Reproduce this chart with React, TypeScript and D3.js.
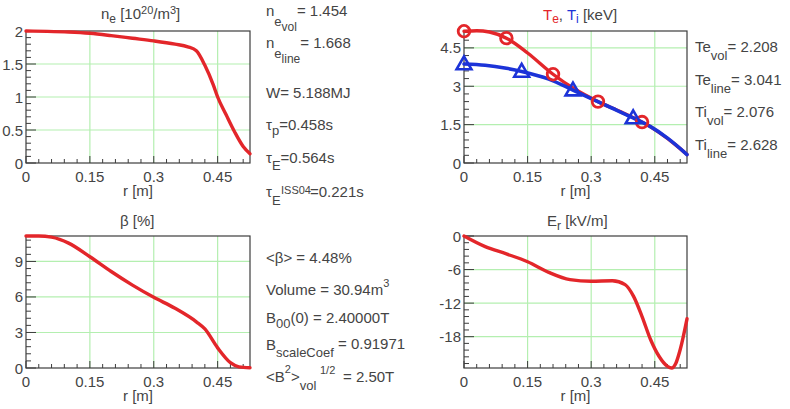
import React from "react";
import * as d3 from "d3";

// ---------------- data ----------------
const rNe = [0, 0.05, 0.1, 0.15, 0.2, 0.25, 0.3, 0.35, 0.38, 0.4, 0.42, 0.44, 0.45, 0.47, 0.49, 0.51, 0.526];
const neValues = [2.0, 1.995, 1.985, 1.965, 1.93, 1.89, 1.85, 1.8, 1.76, 1.7, 1.48, 1.18, 1.0, 0.73, 0.47, 0.25, 0.14];

const rTe = [0, 0.03, 0.06, 0.1, 0.15, 0.21, 0.26, 0.316, 0.37, 0.42, 0.46, 0.5, 0.526];
const teValues = [5.15, 5.17, 5.12, 4.88, 4.3, 3.47, 2.9, 2.4, 2.0, 1.6, 1.2, 0.7, 0.33];
const rTi = [0, 0.05, 0.1, 0.136, 0.2, 0.257, 0.3, 0.35, 0.399, 0.44, 0.48, 0.526];
const tiValues = [3.87, 3.82, 3.7, 3.58, 3.28, 2.85, 2.52, 2.14, 1.76, 1.42, 0.97, 0.33];
const teMarkerR = [0, 0.1, 0.21, 0.316, 0.42];
const teMarkerV = [5.15, 4.88, 3.47, 2.4, 1.6];
const tiMarkerR = [0, 0.136, 0.257, 0.399];
const tiMarkerV = [3.87, 3.58, 2.85, 1.76];

const rBeta = [0, 0.03, 0.06, 0.1, 0.15, 0.2, 0.25, 0.3, 0.35, 0.4, 0.42, 0.45, 0.48, 0.5, 0.526];
const betaValues = [11.15, 11.15, 11.05, 10.55, 9.4, 8.15, 7.0, 5.97, 5.04, 3.9, 3.3, 1.7, 0.45, 0.1, 0.02];

const rEr = [0, 0.05, 0.1, 0.15, 0.2, 0.25, 0.3, 0.35, 0.38, 0.4, 0.42, 0.44, 0.46, 0.48, 0.49, 0.5, 0.51, 0.526];
const erValues = [0, -1.9, -3.2, -4.6, -6.5, -7.8, -8.1, -8.0, -8.7, -10.8, -14.4, -18.5, -21.5, -23.3, -23.6, -22.7, -20.3, -14.8];

const xTickValues = [0, 0.15, 0.3, 0.45];
const xTickLabels = ["0", "0.15", "0.3", "0.45"];
const neTickValues = [0, 0.5, 1, 1.5, 2];
const neTickLabels = ["0", "0.5", "1", "1.5", "2"];
const tTickValues = [0, 1.5, 3, 4.5];
const tTickLabels = ["0", "1.5", "3", "4.5"];
const betaTickValues = [0, 3, 6, 9];
const betaTickLabels = ["0", "3", "6", "9"];
const erTickValues = [0, -6, -12, -18];
const erTickLabels = ["0", "-6", "-12", "-18"];

// ---------------- styles ----------------
const FONT = "'Liberation Sans', Arial, Helvetica, sans-serif";
const TXT = "#444";
const RED = "#e3262a";
const BLUE = "#1c33d8";
const GRID = "#b4efb0";
const FRAME = "#3c3c3c";
const X_MAX = 0.526;

type Box = { left: number; right: number; top: number; bottom: number };
type Series = { r: number[]; v: number[]; color: string; width: number };

function minorRange(min: number, max: number, step: number) {
  const a = Math.ceil(min / step - 1e-9);
  const b = Math.floor(max / step + 1e-9);
  return d3.range(a, b + 1).map((i) => i * step);
}

function Panel(props: {
  box: Box;
  yDomain: [number, number];
  yTicks: number[];
  yLabels: string[];
  yMinor: number;
  series: Series[];
}) {
  const { box, yDomain, yTicks, yLabels, yMinor, series } = props;
  const x = d3.scaleLinear().domain([0, X_MAX]).range([box.left, box.right]);
  const y = d3.scaleLinear().domain(yDomain).range([box.bottom, box.top]);
  const xMinor = minorRange(0, X_MAX, 0.03);
  const yMin = minorRange(yDomain[0], yDomain[1], yMinor);
  const isMajor = (v: number, arr: number[]) => arr.some((t) => Math.abs(t - v) < 1e-6);
  return (
    <g>
      {xTickValues.filter((t) => t > 0).map((t) => (
        <line key={"gx" + t} x1={x(t)} x2={x(t)} y1={box.top} y2={box.bottom} stroke={GRID} strokeWidth={1.2} />
      ))}
      {yTicks.filter((t) => y(t) > box.top + 2 && y(t) < box.bottom - 2).map((t) => (
        <line key={"gy" + t} x1={box.left} x2={box.right} y1={y(t)} y2={y(t)} stroke={GRID} strokeWidth={1.2} />
      ))}
      {xMinor.map((t) => (
        <line key={"tx" + t} x1={x(t)} x2={x(t)} y1={box.bottom} y2={box.bottom - (isMajor(t, xTickValues) ? 7 : 4)} stroke={FRAME} strokeWidth={1} />
      ))}
      {yMin.map((t) => (
        <line key={"ty" + t} x1={box.left} x2={box.left + (isMajor(t, yTicks) ? 10 : 5)} y1={y(t)} y2={y(t)} stroke={FRAME} strokeWidth={1} />
      ))}
      <rect x={box.left} y={box.top} width={box.right - box.left} height={box.bottom - box.top} fill="none" stroke={FRAME} strokeWidth={1.2} />
      {xTickValues.map((t, i) => (
        <text key={"lx" + t} x={x(t)} y={box.bottom + 18.5} textAnchor="middle" fontSize={15} fill={TXT} fontFamily={FONT}>
          {xTickLabels[i]}
        </text>
      ))}
      {yTicks.map((t, i) => (
        <text key={"ly" + t} x={box.left - 3} y={y(t) + 5.5} textAnchor="end" fontSize={15} fill={TXT} fontFamily={FONT}>
          {yLabels[i]}
        </text>
      ))}
      <text x={(box.left + box.right) / 2} y={box.bottom + 33} textAnchor="middle" fontSize={15} fill={TXT} fontFamily={FONT}>
        r [m]
      </text>
      {series.map((s, k) => {
        const pts = s.r.map((r, i) => [r, s.v[i]] as [number, number]);
        const line = d3
          .line<[number, number]>()
          .x((d) => x(d[0]))
          .y((d) => y(d[1]))
          .curve(d3.curveMonotoneX);
        return <path key={"s" + k} d={line(pts) || ""} fill="none" stroke={s.color} strokeWidth={s.width} strokeLinejoin="round" strokeLinecap="round" />;
      })}
    </g>
  );
}

function TeMarkers({ box }: { box: Box }) {
  const x = d3.scaleLinear().domain([0, X_MAX]).range([box.left, box.right]);
  const y = d3.scaleLinear().domain([0, 5.16]).range([box.bottom, box.top]);
  const tri = d3.symbol().type(d3.symbolTriangle).size(95);
  return (
    <g>
      {teMarkerR.map((r, i) => (
        <circle key={"c" + i} cx={x(r)} cy={y(teMarkerV[i])} r={5.8} fill="none" stroke={RED} strokeWidth={2.8} />
      ))}
      {tiMarkerR.map((r, i) => (
        <path key={"t" + i} d={tri() || ""} transform={`translate(${x(r)},${y(tiMarkerV[i]) + 1})`} fill="none" stroke={BLUE} strokeWidth={2.6} strokeLinejoin="miter" />
      ))}
    </g>
  );
}

const P1: Box = { left: 26, right: 250, top: 31, bottom: 163 };
const P2: Box = { left: 464, right: 687, top: 31, bottom: 163 };
const P3: Box = { left: 26, right: 250, top: 236, bottom: 368 };
const P4: Box = { left: 464, right: 687, top: 236, bottom: 368 };

const T = (p: any) => <text fontFamily={FONT} fill={TXT} fontSize={15} {...p} />;

export default function App() {
  return (
    <div style={{ position: "absolute", left: 0, top: 0, width: 790, height: 409, background: "#fff" }}>
      <svg width={790} height={409} style={{ display: "block" }}>
        <rect x={0} y={0} width={790} height={409} fill="#fff" />
        <Panel box={P1} yDomain={[0, 2]} yTicks={neTickValues} yLabels={neTickLabels} yMinor={0.1}
          series={[{ r: rNe, v: neValues, color: RED, width: 3.4 }]} />
        <Panel box={P2} yDomain={[0, 5.16]} yTicks={tTickValues} yLabels={tTickLabels} yMinor={0.3}
          series={[
            { r: rTe, v: teValues, color: RED, width: 3.4 },
            { r: rTi, v: tiValues, color: BLUE, width: 3.6 },
          ]} />
        <TeMarkers box={P2} />
        <Panel box={P3} yDomain={[0, 11.15]} yTicks={betaTickValues} yLabels={betaTickLabels} yMinor={0.6}
          series={[{ r: rBeta, v: betaValues, color: RED, width: 3.4 }]} />
        <Panel box={P4} yDomain={[-23.6, 0]} yTicks={erTickValues} yLabels={erTickLabels} yMinor={1.2}
          series={[{ r: rEr, v: erValues, color: RED, width: 3.4 }]} />

        {/* titles */}
        <T x={101} y={19}>n<tspan dy={4} fontSize={12}>e</tspan><tspan dy={-4}> [10</tspan><tspan dy={-5} fontSize={11}>20</tspan><tspan dy={5}>/m</tspan><tspan dy={-5} fontSize={11}>3</tspan><tspan dy={5}>]</tspan></T>
        <T x={543} y={20}><tspan fill={RED}>T</tspan><tspan fill={RED} dy={3} fontSize={12}>e</tspan><tspan dy={-3}>, </tspan><tspan fill={BLUE}>T</tspan><tspan fill={BLUE} dy={3} fontSize={12}>i</tspan><tspan dy={-3}> [keV]</tspan></T>
        <T x={120} y={226}>β [%]</T>
        <T x={547} y={226}>E<tspan dy={4} fontSize={12}>r</tspan><tspan dy={-4}> [kV/m]</tspan></T>

        {/* top middle info */}
        <T x={266} y={16}>n<tspan dy={10} fontSize={13}>e</tspan><tspan dy={5} fontSize={12}>vol</tspan><tspan dy={-15}>= 1.454</tspan></T>
        <T x={266} y={48}>n<tspan dy={10} fontSize={13}>e</tspan><tspan dy={5} fontSize={12}>line</tspan><tspan dy={-15}>= 1.668</tspan></T>
        <T x={266} y={98}>W= 5.188MJ</T>
        <T x={266} y={130}>τ<tspan dy={5} fontSize={13}>p</tspan><tspan dy={-5}>=0.458s</tspan></T>
        <T x={266} y={163}>τ<tspan dy={7} fontSize={13}>E</tspan><tspan dy={-7}>=0.564s</tspan></T>
        <T x={266} y={197}>τ<tspan dy={8} fontSize={13}>E</tspan><tspan x={281} dy={-11} fontSize={11}>ISS04</tspan><tspan x={310} dy={3}>=0.221s</tspan></T>

        {/* bottom middle info */}
        <T x={266} y={263}>&lt;β&gt; = 4.48%</T>
        <T x={266} y={295}>Volume = 30.94m<tspan dy={-8} fontSize={11}>3</tspan></T>
        <T x={266} y={323}>B<tspan dy={5} fontSize={13}>00</tspan><tspan dy={-5}>(0) = 2.40000T</tspan></T>
        <T x={266} y={350}>B<tspan dy={7} fontSize={13}>scaleCoef</tspan><tspan dy={-8}> = 0.91971</tspan></T>
        <T x={266} y={382}>&lt;B<tspan dy={-9} fontSize={11}>2</tspan><tspan dy={9}>&gt;</tspan><tspan dy={8} fontSize={13}>vol</tspan><tspan x={320} dy={-16} fontSize={11}>1/2</tspan><tspan x={343} dy={8}>= 2.50T</tspan></T>

        {/* right info */}
        <T x={695} y={52}>Te<tspan dy={8} fontSize={13}>vol</tspan><tspan dy={-8}>= 2.208</tspan></T>
        <T x={695} y={85}>Te<tspan dy={8} fontSize={13}>line</tspan><tspan dy={-8}>= 3.041</tspan></T>
        <T x={695} y={117}>Ti<tspan dy={8} fontSize={13}>vol</tspan><tspan dy={-8}>= 2.076</tspan></T>
        <T x={695} y={150}>Ti<tspan dy={8} fontSize={13}>line</tspan><tspan dy={-8}>= 2.628</tspan></T>
      </svg>
    </div>
  );
}
